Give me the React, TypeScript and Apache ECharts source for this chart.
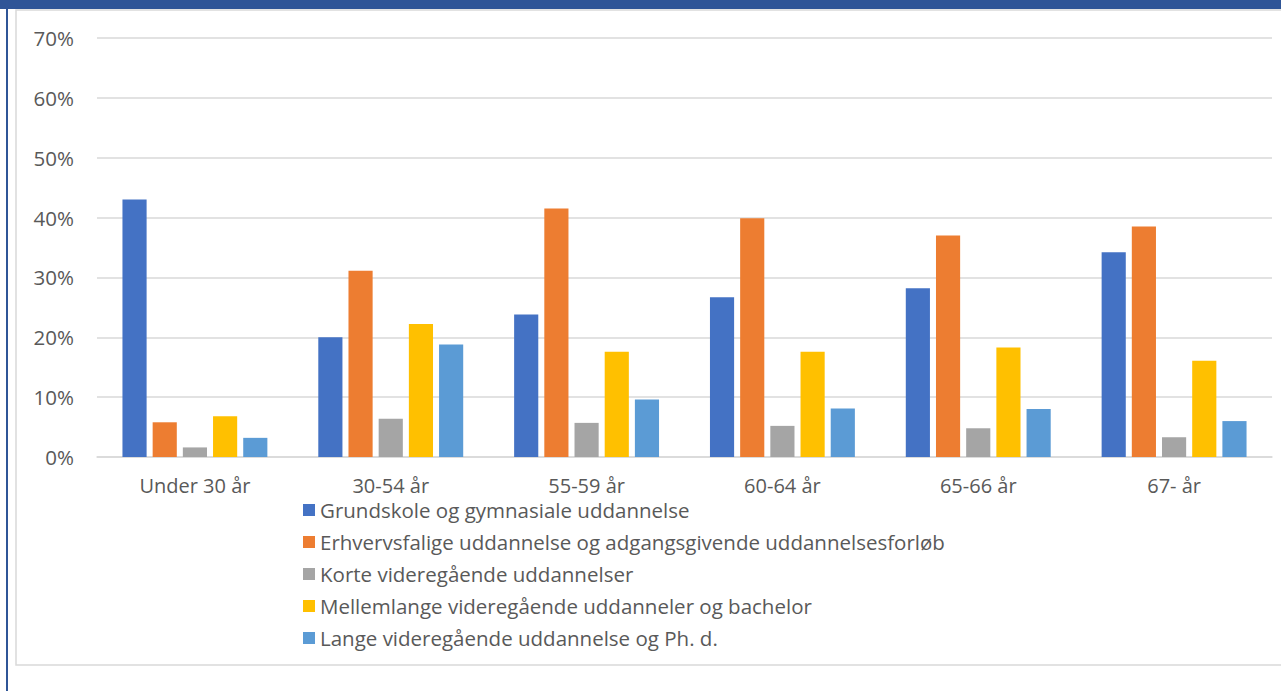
import React, { useEffect, useRef } from "react";
import * as echarts from "echarts";

const categories = ["Under 30 år", "30-54 år", "55-59 år", "60-64 år", "65-66 år", "67- år"];
const seriesNames = [
  "Grundskole og gymnasiale uddannelse",
  "Erhvervsfalige uddannelse og adgangsgivende uddannelsesforløb",
  "Korte videregående uddannelser",
  "Mellemlange videregående uddanneler og bachelor",
  "Lange videregående uddannelse og Ph. d.",
];
const grundskole = [43.0, 20.0, 23.8, 26.7, 28.2, 34.2];
const erhverv = [5.8, 31.1, 41.5, 39.9, 37.0, 38.5];
const korte = [1.6, 6.4, 5.7, 5.2, 4.8, 3.3];
const mellemlange = [6.8, 22.2, 17.6, 17.6, 18.3, 16.1];
const lange = [3.2, 18.8, 9.6, 8.1, 8.0, 6.0];
const colors = ["#4472c4", "#ed7d31", "#a5a5a5", "#ffc000", "#5b9bd5"];
const seriesValues = [grundskole, erhverv, korte, mellemlange, lange];

const FONT = "'Open Sans', 'Noto Sans', sans-serif";

export default function App() {
  const ref = useRef<HTMLDivElement>(null);
  useEffect(() => {
    document.body.style.margin = "0";
    const chart = echarts.init(ref.current!, null, { renderer: "svg" });
    chart.setOption({
      animation: false,
      backgroundColor: "#ffffff",
      textStyle: { fontFamily: FONT },
      graphic: [
        { type: "rect", shape: { x: 0, y: 0, width: 1281, height: 9 }, style: { fill: "#2f5597" } },
        { type: "rect", shape: { x: 6, y: 9, width: 2, height: 682 }, style: { fill: "#2f5597" } },
        {
          type: "rect",
          shape: { x: 16, y: 10, width: 1275, height: 655 },
          style: { fill: "none", stroke: "#d9d9d9", lineWidth: 1.5 },
        },
      ],
      grid: { left: 97, right: 9, top: 38, bottom: 234, containLabel: false },
      xAxis: {
        type: "category",
        data: categories,
        axisTick: { show: false },
        axisLine: { lineStyle: { color: "#d9d9d9", width: 1.5 } },
        axisLabel: { color: "#595959", fontSize: 20, lineHeight: 18, margin: 19, fontFamily: FONT },
      },
      yAxis: {
        type: "value",
        min: 0,
        max: 70,
        interval: 10,
        axisLabel: { formatter: "{value}%", color: "#595959", fontSize: 20.5, margin: 23, fontFamily: FONT },
        splitLine: { lineStyle: { color: "#d9d9d9", width: 1.5 } },
        axisLine: { show: false },
        axisTick: { show: false },
      },
      legend: {
        orient: "vertical",
        left: 298,
        top: 494,
        itemWidth: 12,
        itemHeight: 12,
        itemGap: 10,
        icon: "rect",
        textStyle: { color: "#595959", fontSize: 20.5, lineHeight: 22, fontFamily: FONT },
        data: seriesNames,
      },
      series: seriesNames.map((name, i) => ({
        name,
        type: "bar",
        data: seriesValues[i],
        itemStyle: { color: colors[i] },
        barGap: "25%",
        barCategoryGap: "26%",
      })),
    });
    return () => chart.dispose();
  }, []);
  return <div ref={ref} style={{ position: "fixed", left: 0, top: 0, width: 1281, height: 691 }} />;
}
